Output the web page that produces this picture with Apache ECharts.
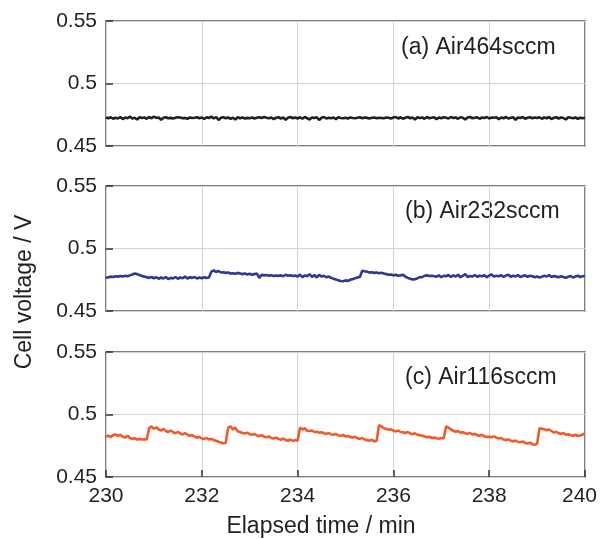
<!DOCTYPE html>
<html>
<head>
<meta charset="utf-8">
<script src="https://cdn.jsdelivr.net/npm/echarts@6/dist/echarts.min.js"></script>
<style>
  html, body { margin: 0; padding: 0; background: #fff; }
  #chart { width: 600px; height: 539px; }
</style>
</head>
<body>
<div id="chart"></div>
<script>
// time axis: 230.00 .. 240.00 min, one reading every 0.05 min
const tStart = 230;
const tStep = 0.05;
const xTicks = [230, 232, 234, 236, 238, 240];
const yTicks = [0.45, 0.5, 0.55];
const panelLabels = ['(a) Air464sccm', '(b) Air232sccm', '(c) Air116sccm'];

// (a) Air 464 sccm
const voltA = [
  0.4728, 0.4722, 0.4730, 0.4718, 0.4726, 0.4720, 0.4732, 0.4715, 0.4728, 0.4722, 0.4735, 0.4720, 0.4726, 0.4712, 0.4730, 0.4724, 0.4728, 0.4718, 0.4732, 0.4722,
  0.4735, 0.4725, 0.4728, 0.4710, 0.4726, 0.4730, 0.4722, 0.4725, 0.4720, 0.4726, 0.4730, 0.4728, 0.4722, 0.4725, 0.4718, 0.4728, 0.4724, 0.4726, 0.4730, 0.4722,
  0.4728, 0.4716, 0.4730, 0.4724, 0.4735, 0.4720, 0.4732, 0.4708, 0.4726, 0.4730, 0.4722, 0.4728, 0.4718, 0.4726, 0.4712, 0.4730, 0.4722, 0.4728, 0.4720, 0.4725,
  0.4722, 0.4728, 0.4720, 0.4726, 0.4730, 0.4724, 0.4732, 0.4726, 0.4722, 0.4728, 0.4715, 0.4726, 0.4730, 0.4720, 0.4728, 0.4710, 0.4726, 0.4732, 0.4722, 0.4728,
  0.4720, 0.4730, 0.4718, 0.4732, 0.4722, 0.4712, 0.4728, 0.4724, 0.4730, 0.4708, 0.4726, 0.4732, 0.4720, 0.4726, 0.4722, 0.4728, 0.4715, 0.4730, 0.4724, 0.4722,
  0.4726, 0.4720, 0.4728, 0.4724, 0.4722, 0.4726, 0.4730, 0.4722, 0.4728, 0.4725, 0.4720, 0.4726, 0.4728, 0.4722, 0.4726, 0.4724, 0.4722, 0.4728, 0.4726, 0.4720,
  0.4728, 0.4732, 0.4720, 0.4730, 0.4718, 0.4726, 0.4732, 0.4722, 0.4728, 0.4712, 0.4730, 0.4724, 0.4728, 0.4718, 0.4732, 0.4722, 0.4726, 0.4730, 0.4715, 0.4728,
  0.4722, 0.4730, 0.4726, 0.4720, 0.4732, 0.4724, 0.4728, 0.4718, 0.4730, 0.4726, 0.4712, 0.4728, 0.4732, 0.4722, 0.4726, 0.4730, 0.4718, 0.4728, 0.4724, 0.4732,
  0.4720, 0.4728, 0.4726, 0.4730, 0.4715, 0.4728, 0.4722, 0.4732, 0.4720, 0.4726, 0.4730, 0.4710, 0.4728, 0.4724, 0.4732, 0.4718, 0.4726, 0.4730, 0.4722, 0.4728,
  0.4724, 0.4730, 0.4718, 0.4728, 0.4722, 0.4732, 0.4715, 0.4726, 0.4730, 0.4720, 0.4728, 0.4724, 0.4712, 0.4730, 0.4726, 0.4722, 0.4728, 0.4718, 0.4726, 0.4722,
  0.4726
];

// (b) Air 232 sccm
const voltB = [
  0.4765, 0.4770, 0.4775, 0.4772, 0.4778, 0.4775, 0.4780, 0.4776, 0.4782, 0.4778, 0.4785, 0.4792, 0.4800, 0.4795, 0.4788, 0.4780, 0.4775, 0.4770, 0.4765, 0.4772,
  0.4762, 0.4770, 0.4758, 0.4768, 0.4760, 0.4772, 0.4755, 0.4765, 0.4760, 0.4772, 0.4758, 0.4768, 0.4762, 0.4775, 0.4760, 0.4770, 0.4765, 0.4772, 0.4760, 0.4768,
  0.4762, 0.4770, 0.4765, 0.4768, 0.4815,
  0.4825, 0.4812, 0.4820, 0.4808, 0.4810, 0.4805, 0.4808, 0.4800, 0.4802, 0.4798, 0.4805, 0.4800, 0.4795, 0.4800, 0.4792, 0.4798, 0.4790, 0.4795, 0.4800, 0.4765, 0.4790,
  0.4785, 0.4788, 0.4782, 0.4786, 0.4780, 0.4784, 0.4782, 0.4785, 0.4778, 0.4790, 0.4782, 0.4786, 0.4780, 0.4784,
  0.4775, 0.4792, 0.4770, 0.4785, 0.4778, 0.4795, 0.4772, 0.4788, 0.4768, 0.4790, 0.4775, 0.4782, 0.4770, 0.4776, 0.4765, 0.4758, 0.4752, 0.4745, 0.4740, 0.4738,
  0.4745, 0.4740, 0.4750, 0.4755, 0.4762, 0.4768, 0.4772, 0.4822,
  0.4818, 0.4815, 0.4808, 0.4810, 0.4805, 0.4808, 0.4802, 0.4806, 0.4800, 0.4795, 0.4790, 0.4792, 0.4785, 0.4790, 0.4782,
  0.4785, 0.4790, 0.4775, 0.4765, 0.4758, 0.4752, 0.4755, 0.4760, 0.4772, 0.4770, 0.4782, 0.4785, 0.4780, 0.4782, 0.4778, 0.4775, 0.4785, 0.4770, 0.4782, 0.4778,
  0.4788, 0.4772, 0.4785, 0.4776, 0.4790, 0.4770, 0.4782, 0.4795, 0.4772, 0.4780, 0.4776, 0.4788, 0.4774, 0.4782, 0.4778, 0.4786, 0.4770, 0.4784, 0.4792, 0.4775,
  0.4782, 0.4778, 0.4786, 0.4772, 0.4784, 0.4790, 0.4774, 0.4782, 0.4776, 0.4788, 0.4772, 0.4780, 0.4785, 0.4774, 0.4782, 0.4778, 0.4770, 0.4776, 0.4768, 0.4775,
  0.4782, 0.4776, 0.4788, 0.4772, 0.4780, 0.4775, 0.4770, 0.4778, 0.4772, 0.4765, 0.4774, 0.4780, 0.4768, 0.4776, 0.4782, 0.4772, 0.4778, 0.4780
];

// (c) Air 116 sccm
const voltC = [
  0.4825, 0.4830, 0.4820, 0.4835, 0.4840, 0.4830, 0.4838, 0.4822, 0.4815, 0.4830, 0.4812, 0.4805, 0.4810, 0.4800, 0.4805, 0.4800, 0.4802, 0.4800,
  0.4890,
  0.4905, 0.4885, 0.4898, 0.4880, 0.4872, 0.4885, 0.4868, 0.4860, 0.4872, 0.4858, 0.4850, 0.4862, 0.4848, 0.4840, 0.4852, 0.4838,
  0.4830, 0.4835, 0.4822, 0.4815, 0.4820, 0.4808, 0.4805, 0.4812, 0.4800, 0.4805, 0.4795, 0.4790, 0.4782, 0.4775, 0.4770, 0.4772,
  0.4895,
  0.4905, 0.4880, 0.4895, 0.4865, 0.4860, 0.4852, 0.4848, 0.4855, 0.4842, 0.4838, 0.4845, 0.4832, 0.4828, 0.4835, 0.4822, 0.4818, 0.4825, 0.4812, 0.4808,
  0.4815, 0.4805, 0.4798, 0.4808, 0.4795, 0.4790, 0.4800, 0.4788, 0.4795, 0.4790,
  0.4895,
  0.4880, 0.4890, 0.4870, 0.4868, 0.4872, 0.4860, 0.4862, 0.4855, 0.4858, 0.4850, 0.4845, 0.4852, 0.4840, 0.4838, 0.4845, 0.4832, 0.4830, 0.4836, 0.4825,
  0.4828, 0.4820, 0.4815, 0.4822, 0.4810, 0.4805, 0.4812, 0.4800, 0.4795, 0.4790, 0.4798, 0.4785, 0.4790,
  0.4915,
  0.4905, 0.4890, 0.4885, 0.4878, 0.4882, 0.4870, 0.4865, 0.4872, 0.4860, 0.4858, 0.4852, 0.4860, 0.4848, 0.4842, 0.4850, 0.4838,
  0.4835, 0.4830, 0.4825, 0.4818, 0.4822, 0.4812, 0.4815, 0.4810, 0.4806, 0.4812, 0.4808,
  0.4905,
  0.4895, 0.4880, 0.4870, 0.4862, 0.4868, 0.4855, 0.4858, 0.4850, 0.4845, 0.4852, 0.4840, 0.4845, 0.4835, 0.4830, 0.4838, 0.4825, 0.4820, 0.4822,
  0.4818, 0.4825, 0.4815, 0.4808, 0.4812, 0.4800, 0.4795, 0.4802, 0.4790, 0.4785, 0.4792, 0.4780, 0.4778, 0.4785, 0.4772, 0.4768, 0.4775, 0.4762, 0.4758, 0.4765,
  0.4890,
  0.4885, 0.4882, 0.4875, 0.4880, 0.4868, 0.4855, 0.4862, 0.4850, 0.4845, 0.4852, 0.4838, 0.4842, 0.4835, 0.4830, 0.4838, 0.4828, 0.4832, 0.4840, 0.4848
];

const lineColors = ['#231f20', '#2e3a8f', '#f15a29'];
const textColor = '#231f20';
const font = 'Liberation Sans, Arial, sans-serif';

const chart = echarts.init(document.getElementById('chart'), null, { renderer: 'canvas' });

const toPairs = (vals) => vals.map((v, i) => [+(tStart + i * tStep).toFixed(2), v]);

// three stacked panels
const panels = [
  { top: 21, height: 125 },
  { top: 186, height: 125 },
  { top: 352, height: 125 }
];

const option = {
  animation: false,
  textStyle: { fontFamily: font },
  grid: panels.map(p => ({
    left: 106,
    right: 15,
    top: p.top,
    height: p.height,
    show: true,
    borderColor: '#555',
    borderWidth: 1.5,
    backgroundColor: 'transparent',
    outerBoundsMode: 'none',
    containLabel: false
  })),
  xAxis: panels.map((p, i) => ({
    type: 'value',
    gridIndex: i,
    min: xTicks[0],
    max: xTicks[xTicks.length - 1],
    interval: 2,
    axisLine: { show: false },
    axisTick: { show: i === 2, inside: true, length: 7, lineStyle: { color: '#333', width: 1.5 } },
    axisLabel: {
      show: i === 2,
      color: textColor,
      fontSize: 21,
      margin: 9,
      // last label nudged left so it stays inside the page
      formatter: v => v === xTicks[xTicks.length - 1] ? '{end|' + v + '}' : String(v),
      rich: { end: { fontSize: 21, color: textColor, padding: [0, 11, 0, 0] } }
    },
    splitLine: { show: true, lineStyle: { color: '#d4d4d4', width: 1 } }
  })),
  yAxis: panels.map((p, i) => ({
    type: 'value',
    gridIndex: i,
    min: yTicks[0],
    max: yTicks[yTicks.length - 1],
    interval: 0.05,
    axisLine: { show: false },
    axisTick: { show: true, inside: true, length: 7, lineStyle: { color: '#333', width: 1.5 } },
    axisLabel: {
      color: textColor,
      fontSize: 21,
      margin: 9,
      formatter: v => String(+v.toFixed(2))
    },
    splitLine: { show: true, lineStyle: { color: '#d4d4d4', width: 1 } }
  })),
  series: [voltA, voltB, voltC].map((vals, i) => ({
    type: 'line',
    xAxisIndex: i,
    yAxisIndex: i,
    data: toPairs(vals),
    showSymbol: false,
    lineStyle: { color: lineColors[i], width: 2.6 },
    itemStyle: { color: lineColors[i] },
    z: 3
  })),
  graphic: [
    {
      type: 'text',
      x: 25,
      y: 292,
      rotation: Math.PI / 2,
      style: {
        text: 'Cell voltage / V',
        fill: textColor,
        font: '23px ' + font,
        textAlign: 'center',
        textVerticalAlign: 'middle'
      }
    },
    {
      type: 'text',
      x: 321,
      y: 527,
      style: {
        text: 'Elapsed time / min',
        fill: textColor,
        font: '23px ' + font,
        textAlign: 'center',
        textVerticalAlign: 'middle'
      }
    }
  ].concat(panelLabels.map((t, i) => ({
    type: 'text',
    x: [401, 405, 405][i],
    y: [48, 212, 378][i],
    style: {
      text: t,
      fill: textColor,
      font: '23px ' + font,
      textAlign: 'left',
      textVerticalAlign: 'middle'
    }
  })))
};

chart.setOption(option);
</script>
</body>
</html>
